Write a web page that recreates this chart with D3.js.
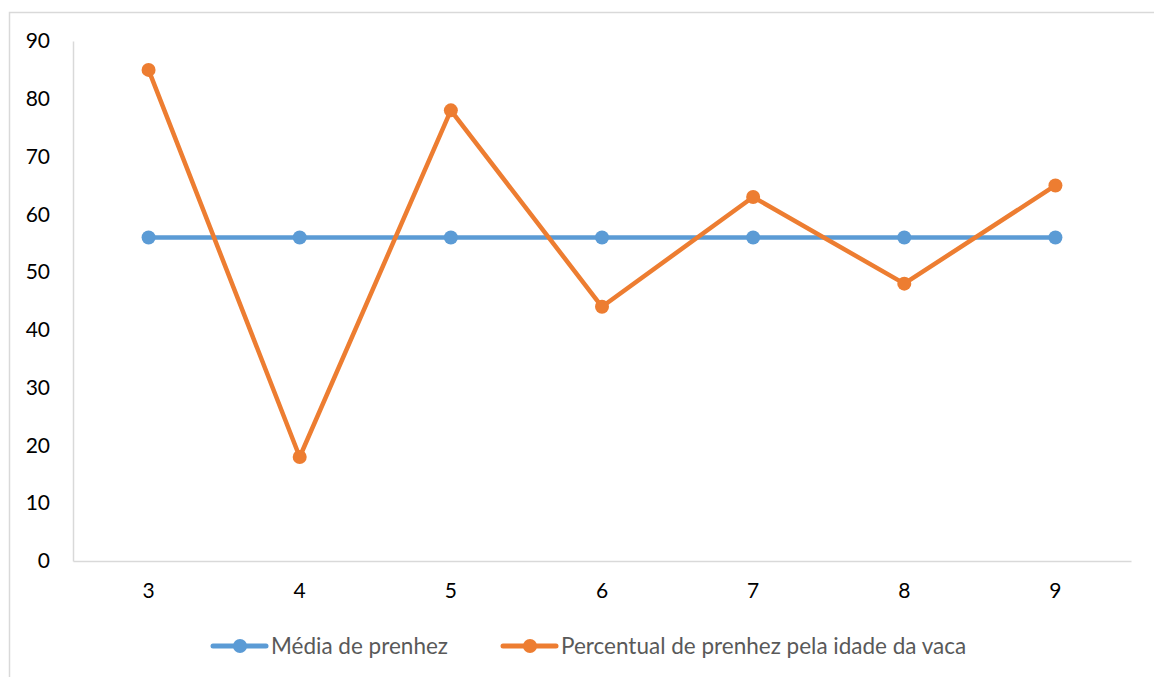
<!DOCTYPE html>
<html>
<head>
<meta charset="utf-8">
<script src="https://cdn.jsdelivr.net/npm/d3@7"></script>
<style>
  html, body { margin: 0; padding: 0; background: #fff; }
  svg { display: block; }
</style>
</head>
<body>
<svg id="chart" width="1154" height="677"></svg>
<script>
// Idade da vaca (anos)
const categories = ["3", "4", "5", "6", "7", "8", "9"];
// Média de prenhez (%)
const mediaPrenhez = [56, 56, 56, 56, 56, 56, 56];
// Percentual de prenhez pela idade da vaca (%)
const percentualIdade = [85, 18, 78, 44, 63, 48, 65];
const yTicks = [0, 10, 20, 30, 40, 50, 60, 70, 80, 90];

const FONT = "Lato, 'Open Sans', sans-serif";

const series = [
  { name: "Média de prenhez", values: mediaPrenhez, color: "#5b9bd5" },
  { name: "Percentual de prenhez pela idade da vaca", values: percentualIdade, color: "#ed7d31" }
];

const svg = d3.select("#chart");
const W = 1154, H = 677;
const plot = { left: 73, right: 1131, top: 41, bottom: 561 };

// outer chart frame
svg.append("rect")
  .attr("x", 9.5).attr("y", 12.5)
  .attr("width", W + 10).attr("height", H + 10)
  .attr("fill", "none").attr("stroke", "#d9d9d9").attr("stroke-width", 1.5);

const x = d3.scaleBand().domain(categories).range([plot.left, plot.right]);
const y = d3.scaleLinear().domain([0, 90]).range([plot.bottom, plot.top]);
const cx = c => x(c) + x.bandwidth() / 2;

// y axis
const yAxis = svg.append("g")
  .attr("transform", `translate(${plot.left},0)`)
  .call(d3.axisLeft(y).tickValues(yTicks).tickSize(0).tickPadding(23))
  .attr("font-family", FONT).attr("font-size", 21);
yAxis.select(".domain").attr("stroke", "#d9d9d9").attr("stroke-width", 1.5);
yAxis.selectAll("text").attr("fill", "#000");

// x axis
const xAxis = svg.append("g")
  .attr("transform", `translate(0,${plot.bottom})`)
  .call(d3.axisBottom(x).tickSize(0).tickPadding(22))
  .attr("font-family", FONT).attr("font-size", 21);
xAxis.select(".domain").attr("stroke", "#d9d9d9").attr("stroke-width", 1.5);
xAxis.selectAll("text").attr("fill", "#000");

// lines and markers
const line = d3.line().x((d, i) => cx(categories[i])).y(d => y(d));
series.forEach(s => {
  const g = svg.append("g");
  g.append("path")
    .datum(s.values)
    .attr("d", line)
    .attr("fill", "none")
    .attr("stroke", s.color)
    .attr("stroke-width", 4.5)
    .attr("stroke-linejoin", "round")
    .attr("stroke-linecap", "round");
  g.selectAll("circle")
    .data(s.values)
    .join("circle")
    .attr("cx", (d, i) => cx(categories[i]))
    .attr("cy", d => y(d))
    .attr("r", 7)
    .attr("fill", s.color);
});

// legend
const legendY = 646;
const legendItems = [
  { s: series[0], x0: 213 },
  { s: series[1], x0: 503 }
];
legendItems.forEach(({ s, x0 }) => {
  const g = svg.append("g");
  g.append("line")
    .attr("x1", x0).attr("x2", x0 + 53)
    .attr("y1", legendY).attr("y2", legendY)
    .attr("stroke", s.color).attr("stroke-width", 5)
    .attr("stroke-linecap", "round");
  g.append("circle")
    .attr("cx", x0 + 27).attr("cy", legendY).attr("r", 7)
    .attr("fill", s.color);
  g.append("text")
    .attr("x", x0 + 58).attr("y", legendY)
    .attr("dy", "0.35em")
    .attr("font-family", FONT)
    .attr("font-size", 22.5)
    .attr("fill", "#595959")
    .text(s.name);
});
</script>
</body>
</html>
